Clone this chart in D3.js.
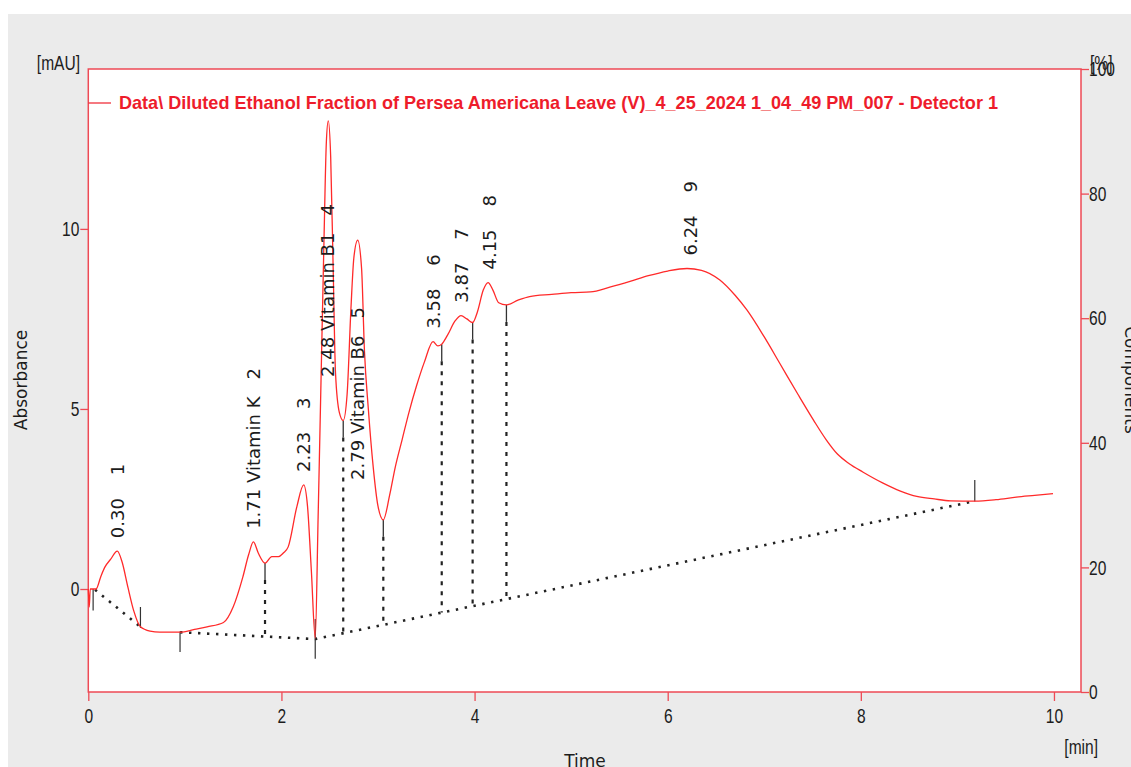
<!DOCTYPE html>
<html><head><meta charset="utf-8">
<script src="https://cdn.jsdelivr.net/npm/d3@7"></script>
<style>body{margin:0;background:#fff;} svg{display:block}</style>
</head><body>
<svg id="c" width="1131" height="767"></svg>
<script>
// ---- data ----
const signalTime = [0,0.01,0.02,0.08,0.13,0.17,0.23,0.30,0.35,0.41,0.47,0.54,0.64,0.74,0.95,1.10,1.23,1.40,1.50,1.60,1.66,1.71,1.76,1.83,1.90,1.97,2.02,2.07,2.16,2.23,2.27,2.31,2.35,2.38,2.41,2.44,2.465,2.485,2.51,2.535,2.56,2.60,2.64,2.68,2.72,2.75,2.79,2.83,2.86,2.90,2.95,3.00,3.055,3.12,3.18,3.25,3.32,3.40,3.48,3.57,3.62,3.66,3.72,3.80,3.86,3.92,3.98,4.03,4.09,4.14,4.19,4.25,4.33,4.45,4.57,4.80,5.00,5.20,5.40,5.61,5.80,6.00,6.20,6.35,6.54,6.70,6.82,7.00,7.16,7.35,7.51,7.64,7.76,7.88,8.02,8.23,8.41,8.58,8.76,8.93,9.18,9.40,9.61,9.80,9.99];
const signalMAU = [0,-0.5,0,0,0.35,0.6,0.82,1.05,0.75,0.05,-0.6,-1.05,-1.17,-1.2,-1.2,-1.12,-1.05,-0.93,-0.5,0.33,0.95,1.31,1.0,0.72,0.9,0.9,1.0,1.17,2.29,2.89,2.3,0.5,-1.36,2.0,5.8,9.6,12.4,13.0,12.0,9.0,6.0,4.9,4.68,5.4,7.8,9.2,9.69,8.9,6.6,5.0,3.4,2.3,1.92,2.6,3.4,4.15,4.9,5.65,6.3,6.87,6.75,6.8,7.05,7.45,7.59,7.5,7.4,7.7,8.3,8.51,8.3,7.95,7.89,8.02,8.12,8.18,8.23,8.25,8.38,8.54,8.7,8.83,8.9,8.85,8.58,8.15,7.75,7.0,6.27,5.4,4.69,4.15,3.74,3.48,3.25,2.94,2.72,2.57,2.5,2.45,2.44,2.48,2.55,2.6,2.65];

const baselineTime = [0.07,0.54,null,0.95,1.83,2.35,9.18];
const baselineMAU  = [-0.02,-1.05,null,-1.2,-1.32,-1.39,2.44];

const dropTimes = [1.83,2.64,3.055,3.66,3.98,4.33];

const markerTimes  = [0.05,0.54,0.95,2.35,9.18];
const markerTop    = [0,-0.5,-1.18,-0.83,3.03];
const markerBottom = [-0.6,-1.08,-1.75,-1.94,2.43];

const peakNumbers = [1,2,3,4,5,6,7,8,9];
const peakRT      = [0.30,1.71,2.23,2.48,2.79,3.58,3.87,4.15,6.24];
const peakHeight  = [1.05,1.31,2.89,13.0,9.69,6.87,7.59,8.51,8.9];
const peakNames   = ["","Vitamin K","","Vitamin B1","Vitamin B6","","","",""];
const peakLabelLevel = [null,null,null,5.89,3.03,null,null,null,null];

const timeTicks = [0,2,4,6,8,10];
const absTicks = [0,5,10];
const compTicks = [0,20,40,60,80,100];

const legendText = "Data\\ Diluted Ethanol Fraction of Persea Americana Leave (V)_4_25_2024 1_04_49 PM_007 - Detector 1";

// ---- drawing ----
const svg = d3.select("#c");
const L = 88.3, R = 1081, T = 69, B = 692;
const x = d3.scaleLinear().domain([0, 10.28]).range([L, R]);
const y = d3.scaleLinear().domain([-2.86, 14.44]).range([B, T]);
const y2 = d3.scaleLinear().domain([0, 100]).range([B, T]);

const RED = "#f0303c";
const FRAME = "#ee4a55";
const TXT = "#1c1c1c";
const narrow = "'Liberation Sans','Arial',sans-serif";
const annot = "'DejaVu Sans',sans-serif";
const NFS = "21px";

svg.append("rect").attr("x",0).attr("y",0).attr("width",1131).attr("height",767).attr("fill","#ffffff");
svg.append("rect").attr("x",8).attr("y",14).attr("width",1123).attr("height",753).attr("fill","#ebebeb");
svg.append("rect").attr("x",L).attr("y",T).attr("width",R-L).attr("height",B-T).attr("fill","#ffffff");

// axes
function styleAxis(g){
  g.select(".domain").remove();
  g.selectAll(".tick line").attr("stroke",FRAME).attr("stroke-width",1.3);
  g.selectAll(".tick text").attr("fill",TXT).attr("class","narrow").style("font-family",narrow).style("font-size",NFS);
}
svg.append("g").attr("transform",`translate(${L},0)`)
  .call(d3.axisLeft(y).tickValues(absTicks).tickSize(8).tickPadding(1).tickFormat(d3.format("d")))
  .call(styleAxis);
svg.append("g").attr("transform",`translate(${R},0)`)
  .call(d3.axisRight(y2).tickValues(compTicks).tickSize(8).tickPadding(0).tickFormat(d3.format("d")))
  .call(styleAxis);
svg.append("g").attr("transform",`translate(0,${B})`)
  .call(d3.axisBottom(x).tickValues(timeTicks).tickSize(9).tickPadding(7).tickFormat(d3.format("d")))
  .call(styleAxis);

// frame
svg.append("rect").attr("x",L).attr("y",T).attr("width",R-L).attr("height",B-T)
  .attr("fill","none").attr("stroke",FRAME).attr("stroke-width",1.5);

// axis titles / units
svg.append("text").attr("class","narrow").attr("x",80).attr("y",70).attr("text-anchor","end").attr("fill",TXT)
  .style("font-family",narrow).style("font-size",NFS).text("[mAU]");
svg.append("text").attr("class","narrow").attr("x",1090).attr("y",70).attr("fill",TXT)
  .style("font-family",narrow).style("font-size",NFS).text("[%]");
svg.append("text").attr("class","narrow").attr("x",1098).attr("y",754).attr("text-anchor","end").attr("fill",TXT)
  .style("font-family",narrow).style("font-size",NFS).text("[min]");
svg.append("text").attr("transform","translate(27,380) rotate(-90)").attr("text-anchor","middle").attr("fill",TXT)
  .style("font-family",annot).style("font-size","17px").text("Absorbance");
svg.append("text").attr("transform","translate(1125,380) rotate(90)").attr("text-anchor","middle").attr("fill",TXT)
  .style("font-family",annot).style("font-size","17px").text("Components");
svg.append("text").attr("x",585).attr("y",767).attr("text-anchor","middle").attr("fill",TXT)
  .style("font-family",annot).style("font-size","17px").text("Time");

// condense the narrow-font texts
svg.selectAll("text.narrow").each(function(){
  const w = this.getComputedTextLength();
  d3.select(this).attr("textLength", w*0.74).attr("lengthAdjust","spacingAndGlyphs");
});

// legend
svg.append("line").attr("x1",L).attr("x2",111).attr("y1",103).attr("y2",103).attr("stroke",RED).attr("stroke-width",1.3);
svg.append("text").attr("x",119).attr("y",108.5).attr("fill","#ee1c2b")
  .attr("textLength",879).attr("lengthAdjust","spacingAndGlyphs")
  .style("font-family",narrow).style("font-size","18.5px").style("font-weight","bold").text(legendText);

// helpers
const sig = signalTime.map((t,i)=>({t, v:signalMAU[i]}));
const base = baselineTime.map((t,i)=>({t, v:baselineMAU[i]}));
function sigAt(t){
  const i = d3.bisector(d=>d.t).left(sig, t);
  if (sig[i] && Math.abs(sig[i].t - t) < 1e-9) return sig[i].v;
  const a = sig[i-1], b = sig[i];
  return a.v + (b.v-a.v)*(t-a.t)/(b.t-a.t);
}
function baseAt(t){
  const segs = base.filter(d=>d.t!==null);
  for (let i=0;i<segs.length-1;i++){
    const a=segs[i], b=segs[i+1];
    if (t>=a.t && t<=b.t) return a.v + (b.v-a.v)*(t-a.t)/(b.t-a.t);
  }
  return 0;
}

// baseline (dotted)
svg.append("path").datum(base)
  .attr("d", d3.line().defined(d=>d.t!==null).x(d=>x(d.t)).y(d=>y(d.v)))
  .attr("fill","none").attr("stroke","#222").attr("stroke-width",2.6)
  .attr("stroke-dasharray","2.4,6.6");

// drop lines
dropTimes.forEach(t=>{
  const top = y(sigAt(t)), bot = y(baseAt(t));
  svg.append("line").attr("x1",x(t)).attr("x2",x(t)).attr("y1",top).attr("y2",Math.min(top+17,bot))
    .attr("stroke","#333").attr("stroke-width",1.3);
  svg.append("line").attr("x1",x(t)).attr("x2",x(t)).attr("y1",top+17).attr("y2",bot)
    .attr("stroke","#222").attr("stroke-width",2.2).attr("stroke-dasharray","4,6");
});

// markers
markerTimes.forEach((t,i)=>{
  svg.append("line").attr("x1",x(t)).attr("x2",x(t)).attr("y1",y(markerTop[i])).attr("y2",y(markerBottom[i]))
    .attr("stroke","#333").attr("stroke-width",1.2);
});

// signal
svg.append("path").datum(sig)
  .attr("d", d3.line().curve(d3.curveMonotoneX).x(d=>x(d.t)).y(d=>y(d.v)))
  .attr("fill","none").attr("stroke","#ff2a2a").attr("stroke-width",1.3);

// peak labels
peakNumbers.forEach((n,i)=>{
  const px = x(peakRT[i]);
  const py = peakLabelLevel[i]!==null ? y(peakLabelLevel[i]) : y(peakHeight[i]) - 13;
  const label = peakRT[i].toFixed(2) + " " + peakNames[i] + "   " + n;
  svg.append("text").attr("transform",`translate(${px},${py}) rotate(-90)`)
    .attr("dy","0.36em").attr("fill",TXT).style("white-space","pre")
    .style("font-family",annot).style("font-size","18px").text(label);
});
</script>
</body></html>
